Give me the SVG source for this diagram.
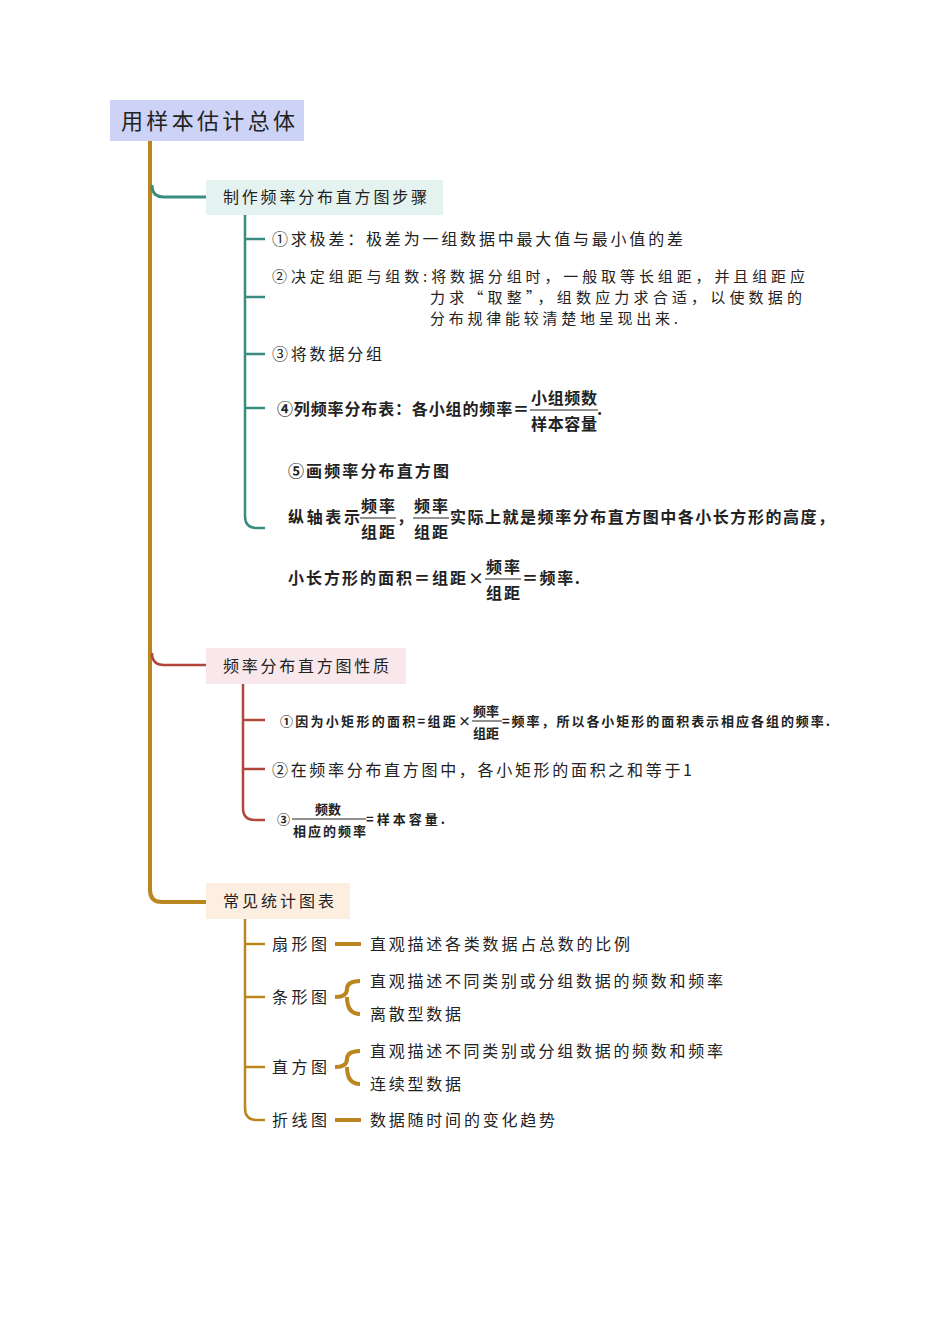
<svg xmlns="http://www.w3.org/2000/svg" width="950" height="1344" viewBox="0 0 950 1344">
<style>
text{font-family:"Noto Sans CJK SC","Liberation Sans",sans-serif;fill:#222;}
.t{font-size:16px;}
.m{font-size:15px;}
.b{font-size:16px;font-weight:bold;}
.s{font-size:13px;font-weight:bold;}
.g{stroke:#bb8620;fill:none;stroke-width:4;}
.gt{stroke:#bb8620;fill:none;stroke-width:2.5;}
.tl{stroke:#3a8c80;fill:none;stroke-width:3;}
.tt{stroke:#3a8c80;fill:none;stroke-width:2.5;}
.rt{stroke:#b0463c;fill:none;stroke-width:2.5;}
.fl{stroke:#222;stroke-width:1;}
</style>
<rect width="950" height="1344" fill="#fff"/>
<g id="connectors">
<path class="g" d="M150 141 V890 Q150 902 162 902 H206"/>
<path class="tl" d="M152 185 Q152 197 164 197 H206"/>
<path class="rt" d="M152 653 Q152 665 164 665 H206"/>
<path class="tt" d="M245 215 V516 Q245 528 257 528 H265 M245 239 H265 M245 297 H265 M245 354 H265 M245 408 H265"/>
<path class="rt" d="M243 684 V808 Q243 820 255 820 H265 M243 720 H265 M243 769 H265"/>
<path class="gt" d="M245 919 V1108 Q245 1120 257 1120 H265 M245 944 H265 M245 997 H265 M245 1067 H265"/>
<path class="g" d="M335 944 H361 M335 1120 H361"/>
<path class="g" d="M335 997 Q347 997 347 989 Q347 981 360 981 M347 997 Q347 1014 360 1014"/>
<path class="g" d="M335 1067 Q347 1067 347 1059 Q347 1051 360 1051 M347 1067 Q347 1084 360 1084"/>
</g>
<g id="root"><rect x="110" y="100" width="194" height="41" fill="#cdd3f6"/><text x="121" y="129" style="font-size:22px" textLength="174">用样本估计总体</text></g>
<g id="b1"><rect x="206" y="180" width="237" height="35" fill="#e5f3f0"/><text class="t" x="223" y="203" textLength="204">制作频率分布直方图步骤</text></g>
<g id="b1-1"><text class="t" x="272" y="245" textLength="411">①求极差：极差为一组数据中最大值与最小值的差</text></g>
<g id="b1-2"><text class="m" x="272" y="282" textLength="533">②决定组距与组数:将数据分组时，一般取等长组距，并且组距应</text><text class="m" x="430" y="303" textLength="372">力求“取整”，组数应力求合适，以使数据的</text><text class="m" x="430" y="324" textLength="248">分布规律能较清楚地呈现出来.</text></g>
<g id="b1-3"><text class="t" x="272" y="360" textLength="110">③将数据分组</text></g>
<g id="b1-4"><text class="b" x="277" y="415" textLength="252">④列频率分布表：各小组的频率＝</text><text class="b" x="531" y="404" textLength="66">小组频数</text><line class="fl" x1="530" y1="410" x2="598" y2="410"/><text class="b" x="531" y="430" textLength="66">样本容量</text><text class="b" x="597" y="415">.</text></g>
<g id="b1-5"><text class="b" x="288" y="477" textLength="161">⑤画频率分布直方图</text>
<text class="b" x="288" y="523" textLength="72">纵轴表示</text><text class="b" x="361" y="512" textLength="34">频率</text><line class="fl" x1="360" y1="518" x2="396" y2="518"/><text class="b" x="361" y="538" textLength="34">组距</text><text class="b" x="397" y="523">，</text>
<text class="b" x="414" y="512" textLength="34">频率</text><line class="fl" x1="413" y1="518" x2="449" y2="518"/><text class="b" x="414" y="538" textLength="34">组距</text><text class="b" x="450" y="523" textLength="384">实际上就是频率分布直方图中各小长方形的高度，</text>
<text class="b" x="288" y="584" textLength="196">小长方形的面积＝组距×</text><text class="b" x="486" y="573" textLength="34">频率</text><line class="fl" x1="485" y1="579" x2="521" y2="579"/><text class="b" x="486" y="599" textLength="34">组距</text><text class="b" x="522" y="584" textLength="58">＝频率.</text></g>
<g id="b2"><rect x="206" y="648" width="200" height="36" fill="#f8e7eb"/><text class="t" x="223" y="672" textLength="166">频率分布直方图性质</text></g>
<g id="b2-1"><text class="s" x="280" y="726" textLength="191">①因为小矩形的面积=组距×</text><text class="s" x="473" y="716">频率</text><line class="fl" x1="472" y1="721" x2="502" y2="721"/><text class="s" x="473" y="738">组距</text><text class="s" x="502" y="726" textLength="328">=频率，所以各小矩形的面积表示相应各组的频率.</text></g>
<g id="b2-2"><text class="t" x="272" y="776" textLength="420">②在频率分布直方图中，各小矩形的面积之和等于1</text></g>
<g id="b2-3"><text class="s" x="277" y="824">③</text><text class="s" x="315" y="814">频数</text><line class="fl" x1="292" y1="819" x2="366" y2="819"/><text class="s" x="293" y="836" textLength="73">相应的频率</text><text class="s" x="366" y="824" textLength="79">=样本容量.</text></g>
<g id="b3"><rect x="206" y="883" width="144" height="36" fill="#fcefe1"/><text class="t" x="223" y="907" textLength="111">常见统计图表</text></g>
<g id="b3-1"><text class="t" x="272" y="950" textLength="55">扇形图</text><text class="t" x="370" y="950" textLength="260">直观描述各类数据占总数的比例</text></g>
<g id="b3-2"><text class="t" x="272" y="1003" textLength="55">条形图</text><text class="t" x="370" y="987" textLength="353">直观描述不同类别或分组数据的频数和频率</text><text class="t" x="370" y="1020" textLength="91">离散型数据</text></g>
<g id="b3-3"><text class="t" x="272" y="1073" textLength="55">直方图</text><text class="t" x="370" y="1057" textLength="353">直观描述不同类别或分组数据的频数和频率</text><text class="t" x="370" y="1090" textLength="91">连续型数据</text></g>
<g id="b3-4"><text class="t" x="272" y="1126" textLength="55">折线图</text><text class="t" x="370" y="1126" textLength="185">数据随时间的变化趋势</text></g>
</svg>
